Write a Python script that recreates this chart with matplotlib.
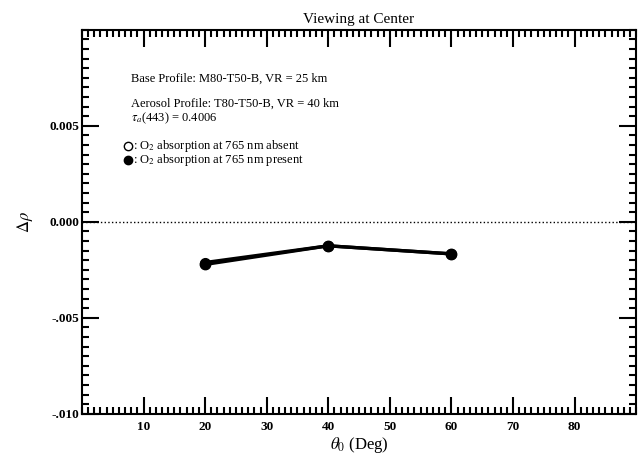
import matplotlib
matplotlib.use("Agg")
import matplotlib.pyplot as plt
from matplotlib.ticker import MultipleLocator, FixedLocator, FixedFormatter

plt.rcParams["font.family"] = ["Liberation Serif", "DejaVu Serif"]
plt.rcParams["mathtext.fontset"] = "stix"

# data
theta0 = [20, 40, 60]
drho_absent = [-0.00212, -0.00125, -0.00167]
drho_present = [-0.00222, -0.00125, -0.00167]

xticks = [10, 20, 30, 40, 50, 60, 70, 80]
yticks = [0.005, 0.0, -0.005, -0.010]
ytick_labels = ["0.005", "0.000", "-.005", "-.010"]

fig = plt.figure(figsize=(6.4, 4.67), dpi=100)
ax = fig.add_axes([0.128, 0.114, 0.866, 0.822])

ax.axhline(0.0, color="black", linestyle=":", linewidth=1.0)

ax.plot(theta0, drho_absent, color="black", linewidth=2.4, marker="o",
        markersize=7, markerfacecolor="white", markeredgecolor="black")
ax.plot(theta0, drho_present, color="black", linewidth=2.4, marker="o",
        markersize=7.5, markerfacecolor="black")

ax.set_xlim(0, 90)
ax.set_ylim(-0.010, 0.010)

ax.xaxis.set_major_locator(FixedLocator(xticks))
ax.xaxis.set_minor_locator(MultipleLocator(1))
ax.yaxis.set_major_locator(FixedLocator(yticks))
ax.yaxis.set_major_formatter(FixedFormatter(ytick_labels))
ax.yaxis.set_minor_locator(MultipleLocator(0.0005))

ax.tick_params(which="both", direction="in", top=True, right=True,
               labelsize=9.5, width=1.5)
ax.tick_params(which="major", length=12)
ax.tick_params(which="minor", length=5)
ax.tick_params(axis="x", pad=5)
ax.tick_params(axis="y", pad=2)
for t in ax.get_xticklabels() + ax.get_yticklabels():
    t.set_fontweight("bold")
for s in ax.spines.values():
    s.set_linewidth(1.5)

ax.set_xlabel(r"$\theta_0$ (Deg)", fontsize=12, labelpad=2)
ax.set_ylabel(r"$\Delta\rho$", fontsize=12, labelpad=10)
ax.set_title("Viewing at Center", fontsize=11, pad=5)

fs = 9
ax.text(0.088, 0.872, "Base Profile: M80-T50-B, VR = 25 km",
        transform=ax.transAxes, fontsize=fs, va="center")
ax.text(0.088, 0.808, "Aerosol Profile: T80-T50-B, VR = 40 km",
        transform=ax.transAxes, fontsize=fs, va="center")
ax.text(0.088, 0.770, r"$\tau_a$(443) = 0.4006",
        transform=ax.transAxes, fontsize=fs, va="center")

ax.plot([0.083], [0.698], transform=ax.transAxes, marker="o", markersize=6,
        markerfacecolor="white", markeredgecolor="black", clip_on=False)
ax.text(0.093, 0.698, r": O$_2$ absorption at 765 nm absent",
        transform=ax.transAxes, fontsize=fs, va="center")
ax.plot([0.083], [0.660], transform=ax.transAxes, marker="o", markersize=6,
        color="black", clip_on=False)
ax.text(0.093, 0.660, r": O$_2$ absorption at 765 nm present",
        transform=ax.transAxes, fontsize=fs, va="center")

fig.savefig("out.png", dpi=100)
